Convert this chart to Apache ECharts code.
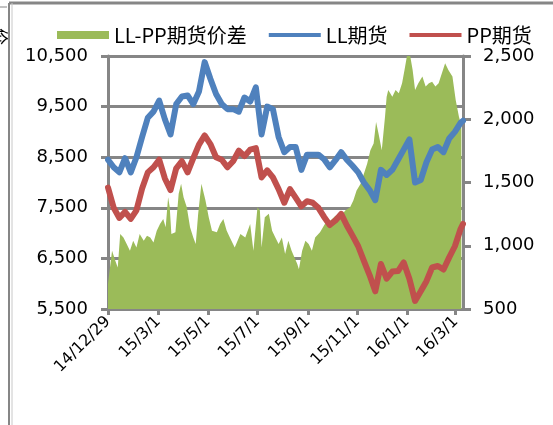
<!DOCTYPE html>
<html>
<head>
<meta charset="UTF-8">
<script src="https://cdn.jsdelivr.net/npm/echarts@6.0.0/dist/echarts.min.js"></script>
<style>
  html, body { margin: 0; padding: 0; background: #fff; }
  #chart { width: 553px; height: 425px; }
</style>
</head>
<body>
<div id="chart"></div>
<script>
// weekly dates for the two price lines (last one is the final day shown)
var dates = ['2014-12-29','2015-01-05','2015-01-12','2015-01-19','2015-01-26','2015-02-02','2015-02-09','2015-02-16','2015-02-23',
  '2015-03-02','2015-03-09','2015-03-16','2015-03-23','2015-03-30','2015-04-06','2015-04-13','2015-04-20','2015-04-27',
  '2015-05-04','2015-05-11','2015-05-18','2015-05-25','2015-06-01','2015-06-08','2015-06-15','2015-06-22','2015-06-29',
  '2015-07-06','2015-07-13','2015-07-20','2015-07-27','2015-08-03','2015-08-10','2015-08-17','2015-08-24','2015-08-31',
  '2015-09-07','2015-09-14','2015-09-21','2015-09-28','2015-10-05','2015-10-12','2015-10-19','2015-10-26','2015-11-02',
  '2015-11-09','2015-11-16','2015-11-23','2015-11-30','2015-12-07','2015-12-14','2015-12-21','2015-12-28','2016-01-04',
  '2016-01-11','2016-01-18','2016-01-25','2016-02-01','2016-02-08','2016-02-15','2016-02-22','2016-02-29','2016-03-07','2016-03-10'];

// LL期货 (left axis)
var llPrice = [8450,8300,8200,8480,8200,8500,8900,9280,9400,9620,9250,8950,9550,9700,9720,9550,9800,10380,10050,9750,
  9550,9450,9450,9400,9680,9600,9880,8950,9500,9450,8900,8600,8700,8700,8250,8550,8550,8550,8460,8300,
  8440,8600,8450,8330,8200,8000,7850,7650,8250,8150,8250,8450,8650,8850,8000,8050,8400,8650,8700,8600,
  8870,9000,9180,9220];

// PP期货 (left axis)
var ppPrice = [7900,7500,7300,7420,7280,7450,7880,8200,8300,8450,8080,7850,8280,8420,8200,8480,8750,8930,8760,8500,
  8450,8300,8420,8630,8520,8650,8680,8100,8240,8100,7870,7600,7870,7700,7530,7630,7600,7500,7320,7160,
  7250,7380,7150,6950,6740,6450,6170,5850,6390,6100,6240,6250,6420,6100,5660,5850,6050,6320,6350,6280,
  6520,6740,7080,7180];

// LL-PP期货价差 (right axis): days since 2014-12-29 and value
var spreadDay = [0,5,9,12,15,19,23,27,31,35,39,44,48,52,56,60,64,68,71,74,76,78,83,87,90,93,97,101,105,108,
  111,115,120,124,128,134,138,142,146,150,156,163,169,175,179,184,187,189,193,198,202,206,210,214,218,222,226,233,235,239,
  243,247,251,255,261,267,274,280,286,292,298,302,306,311,315,319,323,327,330,333,337,341,343,345,350,354,358,362,365,368,
  372,375,378,382,387,391,395,399,403,407,411,415,419,424,428,432,435];
var spread = [700,960,881,828,1093,1066,1014,960,1040,987,1093,1040,1080,1066,1026,1119,1172,1212,1146,1384,1304,1093,1106,1411,1490,1384,1304,1146,1066,1014,
  1252,1490,1357,1225,1119,1106,1172,1212,1120,1066,987,1093,1066,1172,960,1304,1278,987,1225,1252,1119,1066,1014,1066,934,1040,960,855,815,960,
  1040,1014,960,1066,1106,1172,1199,1238,1225,1278,1304,1357,1437,1490,1569,1649,1754,1808,1979,1887,1754,2019,2178,2231,2178,2231,2205,2284,2390,2500,
  2500,2390,2231,2284,2337,2258,2284,2297,2258,2284,2363,2443,2390,2337,2152,2019,1950];

var tickDates = ['2014-12-29','2015-03-01','2015-05-01','2015-07-01','2015-09-01','2015-11-01','2016-01-01','2016-03-01'];

function ts(s) { return new Date(s.replace(/-/g, '/')).getTime(); }
function pairs(vals) { return dates.map(function (d, i) { return [ts(d), vals[i]]; }); }
function commas(v) { return String(v).replace(/\B(?=(\d{3})+(?!\d))/g, ','); }

var day0 = ts('2014-12-29');
var tickTs = tickDates.map(ts);
var gray = '#868686';
var font = 'DejaVu Sans';
var lineIcon = 'path://M0,0L54,0L54,4L0,4Z';

var chart = echarts.init(document.getElementById('chart'));
chart.setOption({
  animation: false,
  textStyle: { fontFamily: font },
  legend: {
    left: 52,
    top: 20,
    itemWidth: 52,
    itemHeight: 8,
    itemGap: 22,
    symbolKeepAspect: true,
    textStyle: { fontFamily: 'Noto Sans CJK SC', fontSize: 20, color: '#000' },
    data: [
      { name: 'LL-PP期货价差', icon: 'rect' },
      { name: 'LL期货', icon: lineIcon },
      { name: 'PP期货', icon: lineIcon }
    ]
  },
  grid: { left: 108, right: 90, top: 56, bottom: 116 },
  xAxis: {
    type: 'value',
    min: ts('2014-12-29'),
    max: ts('2016-03-10'),
    axisLine: { lineStyle: { color: gray, width: 3 } },
    axisTick: { show: true, length: 6, lineStyle: { color: gray, width: 3 }, customValues: tickTs },
    axisLabel: {
      customValues: tickTs,
      rotate: 45,
      margin: 10,
      fontSize: 16,
      color: '#000',
      fontFamily: font,
      formatter: function (v) {
        var d = new Date(v);
        return (d.getFullYear() % 100) + '/' + (d.getMonth() + 1) + '/' + d.getDate();
      }
    },
    splitLine: { show: false }
  },
  yAxis: [{
    type: 'value',
    min: 5500,
    max: 10500,
    interval: 1000,
    axisLine: { show: true, lineStyle: { color: gray, width: 3 } },
    axisTick: { show: true, length: 7, lineStyle: { color: gray, width: 3 } },
    axisLabel: { margin: 20, fontSize: 18, color: '#000', formatter: commas },
    splitLine: { show: true, lineStyle: { color: gray, width: 3 } }
  }, {
    type: 'value',
    min: 500,
    max: 2500,
    interval: 500,
    axisLine: { show: true, lineStyle: { color: gray, width: 3 } },
    axisTick: { show: true, length: 8, lineStyle: { color: gray, width: 3 } },
    axisLabel: { margin: 20, fontSize: 18, color: '#000', formatter: commas },
    splitLine: { show: false }
  }],
  series: [{
    name: 'LL-PP期货价差',
    type: 'line',
    yAxisIndex: 1,
    symbol: 'none',
    color: '#9BBB59',
    lineStyle: { width: 0 },
    areaStyle: { color: '#9BBB59', opacity: 1 },
    z: 1,
    data: spreadDay.map(function (d, i) { return [day0 + d * 864e5, spread[i]]; })
  }, {
    name: 'LL期货',
    type: 'line',
    symbol: 'none',
    color: '#4F81BD',
    lineStyle: { width: 6, cap: 'round', join: 'round' },
    z: 3,
    data: pairs(llPrice)
  }, {
    name: 'PP期货',
    type: 'line',
    symbol: 'none',
    color: '#C0504D',
    lineStyle: { width: 6, cap: 'round', join: 'round' },
    z: 3,
    data: pairs(ppPrice)
  }],
  graphic: [
    { type: 'line', shape: { x1: 9, y1: 3, x2: 553, y2: 3 }, style: { stroke: gray, lineWidth: 3 } },
    { type: 'line', shape: { x1: 9, y1: 3, x2: 9, y2: 425 }, style: { stroke: gray, lineWidth: 2 } },
    { type: 'line', shape: { x1: 12, y1: 3, x2: 12, y2: 425 }, style: { stroke: '#c8c8c8', lineWidth: 1 } },
    { type: 'line', shape: { x1: 0, y1: 7, x2: 7, y2: 7 }, style: { stroke: gray, lineWidth: 1 } },
    { type: 'text', x: 9, y: 28, rotation: -Math.PI / 2, style: { text: '价', fontFamily: 'Noto Sans CJK SC', fontSize: 17, fill: '#000' } }
  ]
});
</script>
</body>
</html>
